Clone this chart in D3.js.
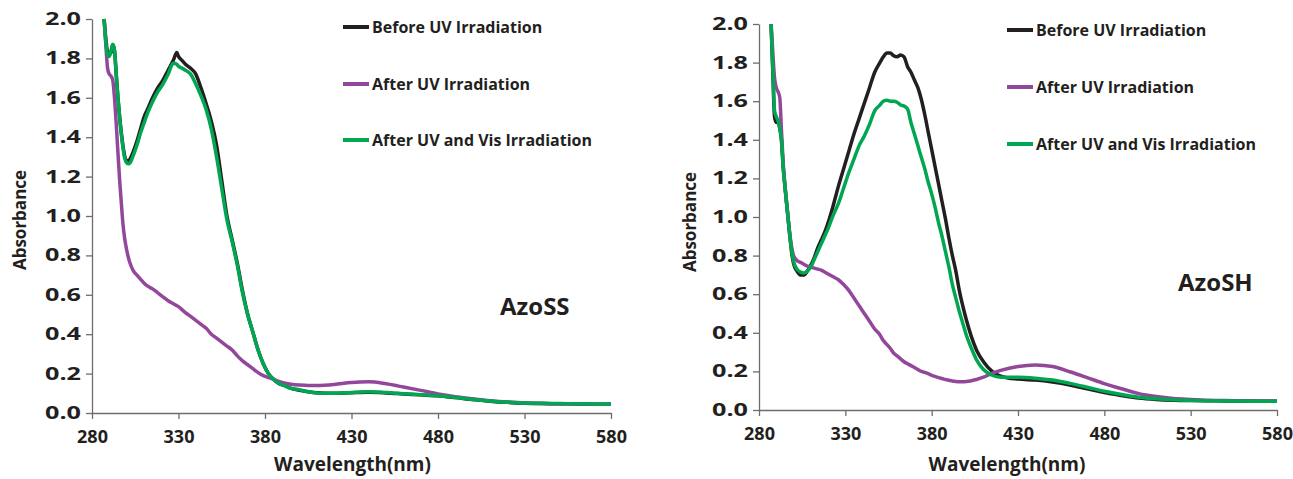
<!DOCTYPE html>
<html>
<head>
<meta charset="utf-8">
<script src="https://cdn.jsdelivr.net/npm/d3@7"></script>
<style>
  body { margin: 0; background: #fff; }
  text { font-family: "Open Sans", sans-serif; font-weight: bold; fill: #231f20; }
</style>
</head>
<body>
<div id="chart"></div>
<script>
// ---- data ----
const seriesNames = ["Before UV Irradiation", "After UV Irradiation", "After UV and Vis Irradiation"];
const seriesColors = ["#231f20", "#93479b", "#00a651"];
const xTicks = [280, 330, 380, 430, 480, 530, 580];
const yTicks = [0, 0.2, 0.4, 0.6, 0.8, 1.0, 1.2, 1.4, 1.6, 1.8, 2.0];

// AzoSS panel
const wlSS = [287,288,289,290,291,292,293,294,295,296,297,298,299,300,301,302,304,306,308,310,312,315,318,321,324,327,329,330,332,334,337,340,343,346,349,352,355,358,361,364,367,370,373,376,379,382,385,388,391,395,400,405,410,420,430,440,450,460,470,480,490,500,510,520,530,540,550,560,570,580];
const beforeSS = [2.00,1.90,1.83,1.82,1.83,1.87,1.84,1.72,1.60,1.50,1.42,1.35,1.30,1.28,1.28,1.29,1.33,1.38,1.44,1.50,1.54,1.60,1.65,1.69,1.74,1.79,1.83,1.81,1.79,1.77,1.75,1.72,1.65,1.57,1.48,1.36,1.18,1.00,0.88,0.76,0.62,0.50,0.41,0.32,0.25,0.20,0.17,0.15,0.14,0.125,0.115,0.108,0.103,0.100,0.103,0.105,0.102,0.097,0.092,0.087,0.078,0.068,0.060,0.054,0.050,0.048,0.047,0.046,0.045,0.045];
const afterUVSS = [2.00,1.87,1.75,1.72,1.71,1.69,1.60,1.47,1.32,1.18,1.06,0.95,0.88,0.83,0.79,0.76,0.72,0.70,0.68,0.66,0.645,0.63,0.61,0.59,0.57,0.555,0.545,0.54,0.525,0.51,0.49,0.47,0.45,0.43,0.40,0.38,0.36,0.34,0.32,0.29,0.265,0.245,0.225,0.205,0.19,0.18,0.172,0.16,0.152,0.146,0.142,0.14,0.14,0.145,0.155,0.158,0.148,0.132,0.115,0.097,0.083,0.072,0.062,0.056,0.051,0.048,0.047,0.046,0.045,0.045];
const afterVisSS = [2.00,1.88,1.82,1.81,1.84,1.87,1.84,1.72,1.60,1.50,1.41,1.34,1.29,1.27,1.265,1.27,1.31,1.36,1.42,1.47,1.52,1.58,1.63,1.67,1.72,1.775,1.77,1.76,1.75,1.74,1.72,1.67,1.61,1.54,1.44,1.30,1.14,0.98,0.87,0.75,0.61,0.50,0.41,0.32,0.25,0.20,0.17,0.15,0.14,0.125,0.118,0.108,0.102,0.100,0.104,0.108,0.104,0.098,0.093,0.088,0.079,0.069,0.061,0.055,0.051,0.049,0.048,0.047,0.046,0.046];

// AzoSH panel
const wlSH = [287,288,289,290,291,292,293,294,295,296,297,298,299,300,302,304,306,308,310,312,314,316,318,320,323,326,329,332,335,338,341,344,347,350,352,354,356,358,360,362,364,366,368,370,372,374,376,378,380,382,384,386,388,390,392,394,396,398,400,403,406,410,415,420,430,440,450,460,470,480,490,500,510,520,530,540,550,560,570,580];
const beforeSH = [2.00,1.75,1.52,1.49,1.50,1.46,1.40,1.26,1.16,1.07,0.98,0.89,0.81,0.76,0.72,0.70,0.70,0.72,0.75,0.79,0.84,0.88,0.92,0.97,1.06,1.16,1.25,1.34,1.43,1.51,1.59,1.67,1.75,1.80,1.83,1.85,1.85,1.835,1.83,1.84,1.83,1.78,1.75,1.71,1.67,1.61,1.53,1.44,1.35,1.26,1.17,1.08,0.99,0.89,0.80,0.72,0.62,0.54,0.47,0.38,0.31,0.25,0.20,0.175,0.16,0.155,0.145,0.13,0.11,0.09,0.075,0.062,0.055,0.051,0.049,0.048,0.047,0.046,0.045,0.045];
const afterUVSH = [2.00,1.85,1.72,1.67,1.65,1.62,1.45,1.28,1.17,1.07,0.98,0.90,0.84,0.80,0.775,0.765,0.755,0.745,0.74,0.735,0.73,0.725,0.715,0.705,0.69,0.675,0.65,0.62,0.58,0.54,0.50,0.46,0.42,0.39,0.36,0.34,0.32,0.295,0.28,0.265,0.25,0.24,0.23,0.22,0.21,0.20,0.195,0.188,0.18,0.174,0.168,0.163,0.158,0.154,0.15,0.148,0.147,0.147,0.148,0.152,0.158,0.17,0.19,0.205,0.225,0.233,0.225,0.198,0.168,0.137,0.11,0.085,0.07,0.06,0.055,0.051,0.049,0.048,0.047,0.046];
const afterVisSH = [2.00,1.77,1.55,1.52,1.50,1.46,1.40,1.26,1.16,1.07,0.98,0.89,0.82,0.77,0.73,0.715,0.71,0.72,0.74,0.78,0.82,0.86,0.90,0.94,1.01,1.07,1.15,1.23,1.30,1.37,1.42,1.48,1.55,1.58,1.60,1.605,1.60,1.60,1.595,1.58,1.575,1.56,1.49,1.43,1.37,1.31,1.25,1.18,1.12,1.05,0.97,0.90,0.82,0.74,0.65,0.58,0.51,0.45,0.39,0.32,0.26,0.21,0.18,0.17,0.17,0.165,0.155,0.138,0.118,0.097,0.08,0.066,0.058,0.053,0.05,0.048,0.047,0.046,0.045,0.045];

// ---- drawing ----
const svg = d3.select("#chart").append("svg")
    .attr("width", 1293)
    .attr("height", 479);

function drawPanel(p) {
    const x = d3.scaleLinear().domain([280, 580]).range([p.left, p.right]);
    const y = d3.scaleLinear().domain([0, 2]).range([p.bottom, p.top]);
    const g = svg.append("g");

    // axes
    const ax = g.append("g")
        .attr("transform", `translate(0,${p.bottom})`)
        .call(d3.axisBottom(x).tickValues(xTicks).tickSize(6).tickSizeOuter(0).tickPadding(11));
    const ay = g.append("g")
        .attr("transform", `translate(${p.left},0)`)
        .call(d3.axisLeft(y).tickValues(yTicks).tickFormat(d3.format(".1f")).tickSize(6).tickSizeOuter(0).tickPadding(5));
    [ax, ay].forEach(a => {
        a.selectAll("path, line").attr("stroke", "#6d6d6d").attr("stroke-width", 1.3);
        a.selectAll("text").style("font-size", "18px").attr("fill", "#231f20");
    });
    ay.selectAll("text")
        .style("font-size", "17px")
        .attr("textLength", 36)
        .attr("lengthAdjust", "spacingAndGlyphs");

    // curves: black, purple, green on top
    const line = d3.line()
        .x(d => x(d[0]))
        .y(d => y(d[1]))
        .curve(d3.curveMonotoneX);
    p.series.forEach((vals, i) => {
        g.append("path")
            .datum(p.wl.map((w, j) => [w, vals[j]]))
            .attr("fill", "none")
            .attr("stroke", seriesColors[i])
            .attr("stroke-width", 3.5)
            .attr("stroke-linejoin", "round")
            .attr("d", line);
    });

    // legend
    seriesNames.forEach((name, i) => {
        const ly = p.legendY[i];
        g.append("line")
            .attr("x1", p.legendX).attr("x2", p.legendX + 26)
            .attr("y1", ly).attr("y2", ly)
            .attr("stroke", seriesColors[i])
            .attr("stroke-width", 4);
        g.append("text")
            .attr("x", p.legendX + 29)
            .attr("y", ly)
            .attr("dy", "0.35em")
            .style("font-size", "16px")
            .text(name);
    });

    // sample label
    g.append("text")
        .attr("x", p.labelX).attr("y", p.labelY)
        .style("font-size", "24px")
        .text(p.label);

    // axis titles
    g.append("text")
        .attr("x", (p.left + p.right) / 2 + p.xTitleShift)
        .attr("y", 471)
        .attr("text-anchor", "middle")
        .style("font-size", "19px")
        .text("Wavelength(nm)");
    g.append("text")
        .attr("transform", `translate(${p.yTitleX},${p.yTitleY}) rotate(-90)`)
        .attr("text-anchor", "middle")
        .style("font-size", "17px")
        .text("Absorbance");
}

drawPanel({
    left: 92, right: 611, top: 19, bottom: 413,
    wl: wlSS, series: [beforeSS, afterUVSS, afterVisSS],
    legendX: 343, legendY: [27, 84, 140],
    label: "AzoSS", labelX: 500, labelY: 315,
    xTitleShift: 1, yTitleX: 26, yTitleY: 220
});
drawPanel({
    left: 759, right: 1277, top: 24, bottom: 410,
    wl: wlSH, series: [beforeSH, afterUVSH, afterVisSH],
    legendX: 1007, legendY: [30, 87, 144],
    label: "AzoSH", labelX: 1178, labelY: 291,
    xTitleShift: -11, yTitleX: 696, yTitleY: 222
});
</script>
</body>
</html>
